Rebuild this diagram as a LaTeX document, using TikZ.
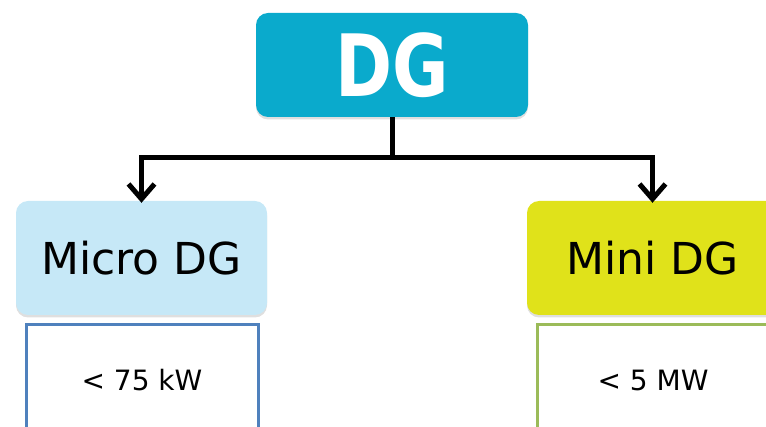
\documentclass[tikz,border=0pt]{standalone}
\usepackage{fontspec}
\setmainfont{DejaVu Sans}
\newfontfamily\dgfont[FakeStretch=0.8]{DejaVu Sans}
\usetikzlibrary{arrows.meta,shadows}
\definecolor{dgblue}{RGB}{10,170,204}
\definecolor{microfill}{RGB}{198,232,247}
\definecolor{minifill}{RGB}{224,226,26}
\definecolor{blueline}{RGB}{79,129,189}
\definecolor{greenline}{RGB}{155,187,89}
\tikzset{
  headbox/.style={rectangle, rounded corners=12pt, inner sep=0pt,
    drop shadow={shadow xshift=0pt, shadow yshift=-2.5pt, opacity=0.25}},
  infobox/.style={rectangle, draw, line width=3pt, fill=white, inner sep=0pt,
    minimum width=232pt, minimum height=110pt,
    font=\fontsize{28}{28}\selectfont},
  conn/.style={line width=5pt, line join=miter,
    -{Straight Barb[length=15pt,width=26pt,line join=miter]}},
}
\begin{document}
\begin{tikzpicture}[x=1pt,y=-1pt]
\useasboundingbox (0,0) rectangle (766,427);
\clip (0,0) rectangle (766,427);
\node[headbox, fill=dgblue, text=white, minimum width=272pt, minimum height=104pt,
  font=\dgfont\bfseries\fontsize{86}{86}\selectfont] (dg) at (392,65) {DG};
\node[headbox, fill=microfill, minimum width=251pt, minimum height=114pt,
  font=\fontsize{44}{44}\selectfont] (micro) at (141.5,258) {Micro DG};
\node[headbox, fill=minifill, minimum width=251pt, minimum height=114pt,
  font=\fontsize{44}{44}\selectfont] (mini) at (652.5,258) {Mini DG};
\node[infobox, draw=blueline] (microval) at (142,380) {< 75 kW};
\node[infobox, draw=greenline] (minival) at (653,380) {< 5 MW};
\draw[line width=5pt] (dg.south) -- ++(0,40) coordinate (j);
\draw[conn] (j) -| ([yshift=-2pt]micro.north);
\draw[conn] (j) -| ([yshift=-2pt]mini.north);
\end{tikzpicture}
\end{document}
